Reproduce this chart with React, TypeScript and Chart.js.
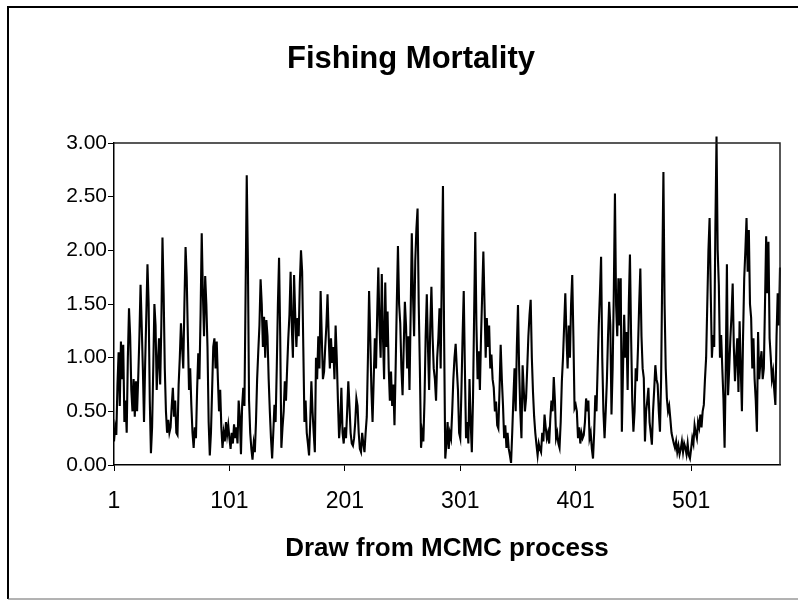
import React, { useEffect, useRef } from "react";
import { Chart, registerables } from "chart.js";

Chart.register(...registerables);

const CHART_TITLE = "Fishing Mortality";
const X_AXIS_TITLE = "Draw from MCMC process";
const X_TICK_VALUES = [1, 101, 201, 301, 401, 501];
const Y_TICK_VALUES = [0, 0.5, 1, 1.5, 2, 2.5, 3];

// Fishing mortality per MCMC draw, in blocks of 100 draws
const draws001to100 = [
  0.22, 0.35, 0.28, 0.75, 1.05, 0.55, 1.15, 0.8, 1.12, 0.4, 0.6, 0.3, 1.0, 1.46, 1.2, 0.7, 0.5, 0.8, 0.45, 0.78,
  0.5, 0.82, 1.2, 1.68, 1.3, 0.9, 0.4, 0.95, 1.4, 1.87, 1.5, 0.6, 0.11, 0.35, 0.9, 1.5, 1.3, 0.7, 0.95, 1.18,
  0.75, 1.3, 2.12, 1.6, 0.9, 0.5, 0.3, 0.42, 0.3, 0.35, 0.55, 0.72, 0.45, 0.6, 0.3, 0.28, 0.75, 1.0, 1.32, 1.1,
  0.9, 1.5, 2.03, 1.75, 1.2, 0.7, 0.9, 0.56, 0.3, 0.16, 0.35, 0.25, 0.7, 1.04, 0.8, 1.4, 2.16, 1.6, 1.2, 1.76,
  1.5, 1.1, 0.4, 0.09, 0.3, 0.7, 1.1, 1.18, 0.9, 1.15, 0.8, 0.5, 0.7, 0.35, 0.16, 0.3, 0.22, 0.4, 0.28, 0.37,
];
const draws101to200 = [
  0.25, 0.15, 0.3, 0.2, 0.38, 0.25, 0.35, 0.2, 0.6, 0.45, 0.1, 0.55, 0.72, 0.55, 1.6, 2.7, 1.9, 0.6, 0.3, 0.15,
  0.05, 0.2, 0.12, 0.4, 0.8, 1.06, 1.3, 1.73, 1.5, 1.1, 1.38, 1.0, 1.35, 1.2, 0.8, 0.5, 0.25, 0.06, 0.3, 0.56,
  0.4, 0.9, 1.5, 1.93, 1.2, 0.16, 0.35, 0.5, 0.78, 0.6, 0.9, 1.18, 1.4, 1.8, 1.3, 1.0, 1.77, 1.4, 1.1, 1.37,
  1.2, 1.7, 2.0, 1.8, 1.1, 0.4, 0.6, 0.3, 0.2, 0.09, 0.4, 0.78, 0.5, 0.3, 0.12, 1.0, 0.8, 1.2, 0.9, 1.62,
  1.2, 0.8, 0.87, 1.1, 1.3, 1.59, 1.2, 0.9, 1.18, 0.95, 1.1, 0.8, 1.3, 1.0, 0.6, 0.25, 0.4, 0.72, 0.3, 0.2,
];
const draws201to300 = [
  0.35, 0.25, 0.5, 0.78, 0.55, 0.3, 0.2, 0.18, 0.25, 0.4, 0.62, 0.55, 0.3, 0.15, 0.12, 0.3, 0.2, 0.12, 0.3, 0.45,
  1.0, 1.62, 1.2, 0.7, 0.4, 0.8, 1.18, 0.9, 1.4, 1.84, 1.3, 1.0, 1.78, 1.2, 0.8, 1.7, 1.1, 1.43, 0.9, 0.6,
  0.87, 0.55, 0.75, 0.37, 0.9, 1.5, 2.04, 1.5, 1.32, 0.9, 0.65, 1.1, 1.52, 1.3, 0.9, 1.2, 0.7, 1.4, 2.16, 1.6,
  1.2, 1.9, 2.2, 2.39, 1.5, 0.9, 0.16, 0.3, 0.22, 0.6, 1.2, 1.59, 1.1, 0.7, 1.3, 1.66, 1.2, 0.9, 0.8, 0.6,
  1.0, 1.18, 1.46, 0.9, 1.8, 2.6, 1.2, 0.06, 0.2, 0.4, 0.15, 0.3, 0.25, 0.5, 0.8, 1.0, 1.13, 0.9, 0.7, 0.3,
];
const draws301to400 = [
  0.25, 0.7, 1.2, 1.62, 0.9, 0.25, 0.4, 0.2, 0.8, 0.4, 0.12, 0.6, 1.4, 2.17, 1.3, 0.8, 1.06, 0.7, 1.2, 1.6,
  1.99, 1.5, 1.0, 1.37, 1.1, 1.3, 0.9, 1.03, 0.8, 0.72, 0.5, 0.59, 0.37, 0.34, 0.7, 1.12, 0.8, 0.56, 0.25, 0.37,
  0.16, 0.3, 0.15, 0.09, 0.02, 0.3, 0.62, 0.9, 0.5, 1.1, 1.49, 0.9, 0.5, 0.25, 0.93, 0.7, 0.5, 0.62, 0.9, 1.2,
  1.4, 1.54, 1.0, 0.68, 0.45, 0.3, 0.19, 0.09, 0.2, 0.15, 0.12, 0.3, 0.22, 0.47, 0.35, 0.25, 0.3, 0.2, 0.43, 0.6,
  0.5, 0.82, 0.6, 0.25, 0.3, 0.2, 0.16, 0.4, 0.78, 1.0, 1.3, 1.6, 1.2, 0.9, 1.3, 1.0, 1.5, 1.77, 1.2, 0.53,
];
const draws401to500 = [
  0.56, 0.5, 0.25, 0.35, 0.2, 0.3, 0.25, 0.28, 0.4, 0.62, 0.5, 0.6, 0.25, 0.3, 0.15, 0.06, 0.3, 0.65, 0.5, 0.9,
  1.3, 1.6, 1.94, 1.0, 0.5, 0.25, 0.5, 0.78, 1.2, 1.52, 1.3, 0.47, 0.9, 1.6, 2.53, 1.49, 1.2, 1.74, 1.3, 1.74,
  0.31, 0.9, 1.4, 1.0, 1.24, 0.7, 1.5, 1.96, 1.2, 0.6, 0.31, 0.5, 0.9, 0.78, 1.1, 1.5, 1.83, 1.2, 0.9, 0.81,
  0.22, 0.5, 0.6, 0.72, 0.4, 0.3, 0.19, 0.5, 0.7, 0.93, 0.8, 0.75, 0.5, 0.31, 0.8, 1.8, 2.73, 1.5, 0.9, 0.62,
  0.5, 0.55, 0.43, 0.3, 0.25, 0.2, 0.16, 0.22, 0.12, 0.18, 0.1, 0.15, 0.22, 0.12, 0.2, 0.16, 0.1, 0.2, 0.09, 0.06,
];
const draws501to578 = [
  0.15, 0.25, 0.2, 0.37, 0.3, 0.25, 0.4, 0.35, 0.47, 0.35, 0.5, 0.56, 0.8, 1.0, 1.5, 2.0, 2.3, 1.6, 1.0, 1.21,
  1.1, 2.2, 3.06, 2.0, 1.68, 1.0, 1.21, 0.9, 0.62, 0.16, 0.9, 1.87, 0.65, 0.9, 1.18, 1.4, 1.69, 1.1, 0.78, 1.0,
  1.18, 0.68, 1.34, 0.9, 0.5, 1.2, 1.74, 2.0, 2.3, 1.8, 2.19, 1.5, 1.37, 0.9, 1.18, 0.8, 0.6, 0.31, 1.24, 0.8,
  0.96, 1.06, 0.8, 0.9, 1.5, 2.13, 1.6, 2.08, 1.18, 1.0, 0.8, 0.87, 0.7, 0.56, 1.2, 1.6, 1.3, 1.84,
];

const fishingMortality = [
  ...draws001to100,
  ...draws101to200,
  ...draws201to300,
  ...draws301to400,
  ...draws401to500,
  ...draws501to578,
];
const drawNumbers = fishingMortality.map((_, i) => i + 1);

const FONT = '"Liberation Sans", Arial, Helvetica, sans-serif';

const framePlugin = {
  id: "frame",
  beforeDraw(chart: any) {
    const ctx = chart.ctx;
    ctx.save();
    ctx.fillStyle = "#ffffff";
    ctx.fillRect(0, 0, chart.width, chart.height);
    ctx.restore();
  },
  afterDraw(chart: any) {
    const ctx = chart.ctx;
    const a = chart.chartArea;
    ctx.save();
    // outer chart frame
    ctx.strokeStyle = "#000";
    ctx.lineWidth = 2;
    ctx.beginPath();
    ctx.moveTo(8, 599);
    ctx.lineTo(8, 7);
    ctx.lineTo(chart.width, 7);
    ctx.stroke();
    ctx.strokeStyle = "#666";
    ctx.lineWidth = 1;
    ctx.beginPath();
    ctx.moveTo(8, 599);
    ctx.lineTo(chart.width, 599);
    ctx.stroke();
    // plot area border (top and right)
    ctx.strokeStyle = "#222";
    ctx.lineWidth = 1.5;
    ctx.beginPath();
    ctx.moveTo(a.left, a.top);
    ctx.lineTo(a.right, a.top);
    ctx.lineTo(a.right, a.bottom);
    ctx.stroke();
    ctx.restore();
  },
};

export default function App() {
  const canvasRef = useRef<HTMLCanvasElement | null>(null);

  useEffect(() => {
    const canvas = canvasRef.current;
    if (!canvas) return;
    const chart = new Chart(canvas, {
      type: "line",
      data: {
        datasets: [
          {
            label: "Fishing Mortality",
            data: drawNumbers.map((x, i) => ({ x, y: fishingMortality[i] })),
            borderColor: "#000",
            borderWidth: 2.1,
            pointRadius: 0,
            tension: 0,
            clip: false as any,
          },
        ],
      },
      options: {
        animation: false,
        responsive: false,
        devicePixelRatio: 1,
        layout: { padding: { left: 42, right: 18, top: 0, bottom: 0 } },
        plugins: {
          legend: { display: false },
          tooltip: { enabled: false },
          title: {
            display: true,
            text: CHART_TITLE,
            color: "#000",
            font: { family: FONT, size: 31, weight: "bold" },
            padding: { top: 40.4, bottom: 65.4 },
          },
        },
        scales: {
          x: {
            type: "linear",
            min: 1,
            max: drawNumbers.length,
            afterBuildTicks: (scale: any) => {
              scale.ticks = X_TICK_VALUES.map((v) => ({ value: v }));
            },
            afterFit: (scale: any) => {
              scale.height = 136;
            },
            ticks: {
              autoSkip: false,
              maxRotation: 0,
              color: "#000",
              font: { family: FONT, size: 23 },
              padding: 16.7,
              callback: (v: any) => String(v),
            },
            grid: {
              drawOnChartArea: false,
              drawTicks: true,
              tickLength: 6,
              color: "#000",
              lineWidth: 1,
            },
            border: { display: true, color: "#000", width: 1.5 },
            title: {
              display: true,
              text: X_AXIS_TITLE,
              color: "#000",
              font: { family: FONT, size: 26, weight: "bold" },
              padding: { top: 0, bottom: 37 },
            },
          },
          y: {
            type: "linear",
            min: 0,
            max: 3,
            afterBuildTicks: (scale: any) => {
              scale.ticks = Y_TICK_VALUES.map((v) => ({ value: v }));
            },
            afterFit: (scale: any) => {
              scale.width = 72;
            },
            ticks: {
              color: "#000",
              font: { family: FONT, size: 21 },
              padding: 1,
              callback: (v: any) => Number(v).toFixed(2),
            },
            grid: {
              drawOnChartArea: false,
              drawTicks: true,
              tickLength: 6,
              color: "#000",
              lineWidth: 1,
            },
            border: { display: true, color: "#000", width: 1.5 },
          },
        },
      },
      plugins: [framePlugin],
    });
    return () => chart.destroy();
  }, []);

  return (
    <div style={{ position: "fixed", left: 0, top: 0, width: 798, height: 601, background: "#fff" }}>
      <canvas ref={canvasRef} width={798} height={601} style={{ width: 798, height: 601, display: "block" }} />
    </div>
  );
}
